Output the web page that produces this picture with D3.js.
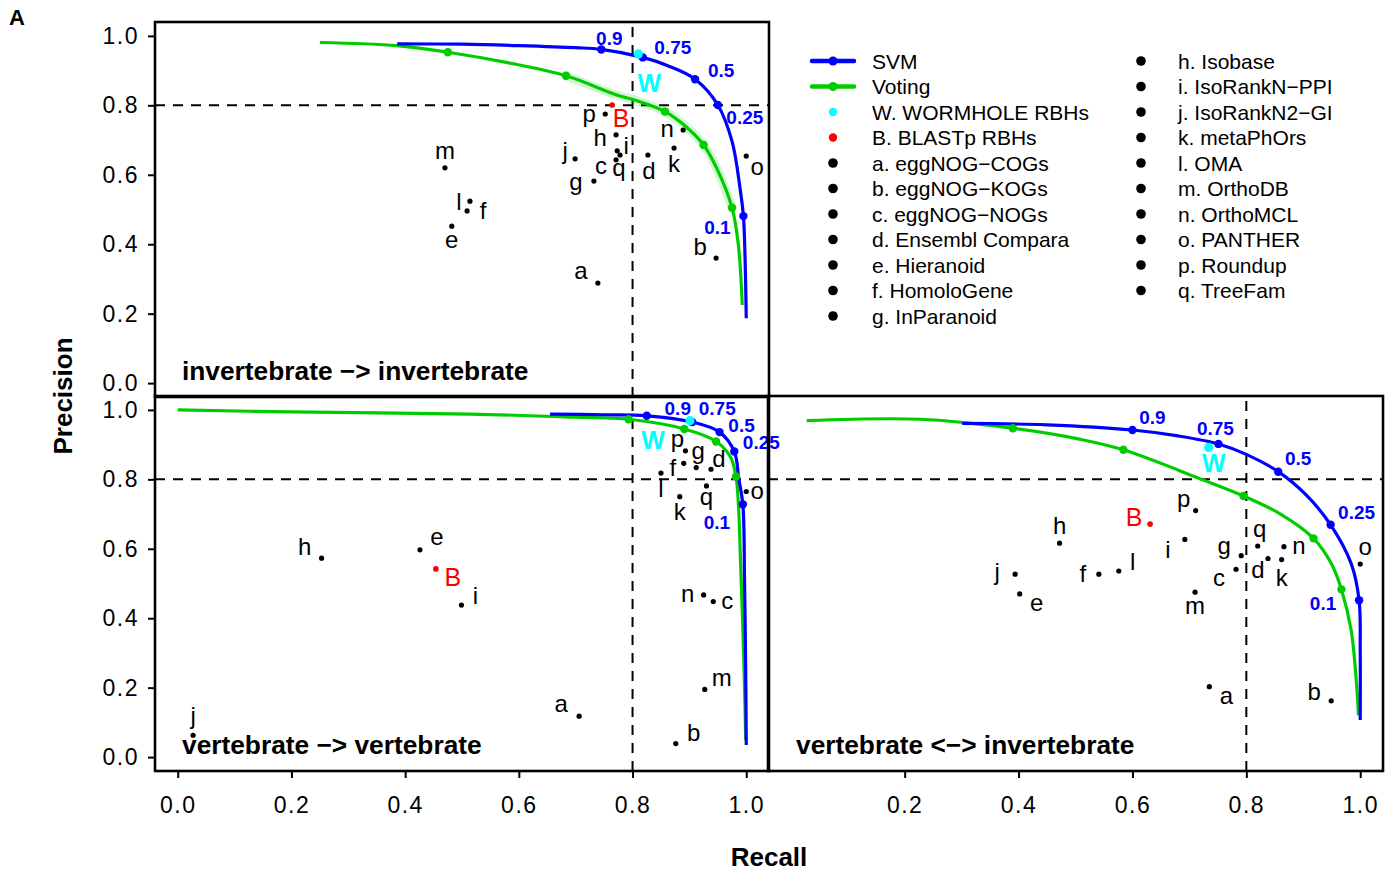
<!DOCTYPE html>
<html><head><meta charset="utf-8">
<script src="https://cdn.jsdelivr.net/npm/d3@7"></script>
<style>
body{margin:0;background:#fff}
text{font-family:"Liberation Sans",Arial,Helvetica,sans-serif}
</style>
</head><body><svg id="chart" width="1394" height="871"></svg>
<script>
// ---------------- DATA ----------------
const methodLetters = ["a","b","c","d","e","f","g","h","i","j","k","l","m","n","o","p","q"];
const methodNames = ["eggNOG\u2212COGs","eggNOG\u2212KOGs","eggNOG\u2212NOGs","Ensembl Compara","Hieranoid","HomoloGene","InParanoid",
  "Isobase","IsoRankN\u2212PPI","IsoRankN2\u2212GI","metaPhOrs","OMA","OrthoDB","OrthoMCL","PANTHER","Roundup","TreeFam"];
const thresholdLabels = ["0.9","0.75","0.5","0.25","0.1"];
const tickValues = [0, 0.2, 0.4, 0.6, 0.8, 1.0];
const rightTickValues = [0.2, 0.4, 0.6, 0.8, 1.0];
const panelTitles = ["invertebrate \u2212> invertebrate","vertebrate \u2212> vertebrate","vertebrate <\u2212> invertebrate"];
const cutoff = 0.8;

// invertebrate -> invertebrate  [recall, precision]
const invSvmCurve = [[0.386,0.977],[0.50,0.976],[0.60,0.972],[0.70,0.966],[0.745,0.961],[0.818,0.938],[0.862,0.914],[0.910,0.875],[0.950,0.801],[0.975,0.696],[0.989,0.562],[0.995,0.481],[0.998,0.354],[1.0,0.187]];
const invVotingCurve = [[0.25,0.981],[0.385,0.972],[0.475,0.953],[0.58,0.923],[0.683,0.885],[0.772,0.830],[0.808,0.813],[0.857,0.782],[0.890,0.744],[0.925,0.686],[0.948,0.619],[0.975,0.505],[0.986,0.40],[0.993,0.225]];
const invSvmThresholds = [[0.745,0.961],[0.818,0.938],[0.910,0.875],[0.950,0.801],[0.995,0.481]];
const invVotingDots = [[0.475,0.953],[0.683,0.885],[0.857,0.782],[0.925,0.686],[0.975,0.505]];
const invMethodRecall    = [0.739,0.947,0.771,0.827,0.482,0.509,0.732,0.771,0.773,0.699,0.873,0.514,0.470,0.889,1.000,0.752,0.778];
const invMethodPrecision = [0.288,0.360,0.643,0.657,0.452,0.496,0.582,0.715,0.669,0.646,0.677,0.524,0.620,0.729,0.654,0.775,0.657];
const invWormhole = [0.810,0.948];
const invBlast = [0.764,0.801];

// vertebrate -> vertebrate
const vertSvmCurve = [[0.655,0.988],[0.75,0.986],[0.825,0.983],[0.905,0.965],[0.953,0.936],[0.979,0.880],[0.987,0.80],[0.994,0.728],[0.997,0.50],[0.999,0.25],[1.0,0.035]];
const vertVotingCurve = [[0.0,1.0],[0.2,0.994],[0.514,0.988],[0.70,0.979],[0.793,0.973],[0.891,0.945],[0.947,0.909],[0.972,0.865],[0.982,0.808],[0.991,0.51],[0.997,0.20],[0.999,0.05]];
const vertSvmThresholds = [[0.825,0.983],[0.905,0.965],[0.953,0.936],[0.979,0.880],[0.994,0.728]];
const vertVotingDots = [[0.793,0.973],[0.891,0.945],[0.947,0.909],[0.982,0.808]];
const vertMethodRecall    = [0.706,0.876,0.942,0.938,0.426,0.890,0.912,0.253,0.499,0.027,0.883,0.850,0.927,0.925,1.000,0.893,0.930];
const vertMethodPrecision = [0.118,0.039,0.448,0.829,0.597,0.846,0.834,0.573,0.438,0.063,0.750,0.818,0.195,0.467,0.765,0.882,0.781];
const vertWormhole = [0.901,0.969];
const vertBlast = [0.454,0.542];

// vertebrate <-> invertebrate
const crossSvmCurve = [[0.301,0.961],[0.45,0.957],[0.600,0.942],[0.68,0.925],[0.751,0.902],[0.80,0.872],[0.856,0.822],[0.905,0.755],[0.948,0.669],[0.984,0.558],[0.998,0.452],[1.0,0.30],[1.0,0.107]];
const crossVotingCurve = [[0.028,0.969],[0.227,0.973],[0.390,0.947],[0.509,0.915],[0.584,0.885],[0.726,0.797],[0.795,0.752],[0.86,0.700],[0.918,0.630],[0.949,0.558],[0.967,0.483],[0.984,0.366],[0.994,0.20],[0.997,0.12]];
const crossSvmThresholds = [[0.600,0.942],[0.751,0.902],[0.856,0.822],[0.948,0.669],[0.998,0.452]];
const crossVotingDots = [[0.390,0.947],[0.584,0.885],[0.795,0.752],[0.918,0.630],[0.967,0.483]];
const crossMethodRecall    = [0.735,0.949,0.782,0.838,0.402,0.541,0.791,0.472,0.692,0.394,0.862,0.576,0.710,0.866,1.000,0.711,0.820];
const crossMethodPrecision = [0.203,0.162,0.541,0.572,0.470,0.527,0.580,0.616,0.627,0.527,0.569,0.536,0.475,0.606,0.556,0.710,0.608];
const crossWormhole = [0.734,0.892];
const crossBlast = [0.631,0.671];

// ---------------- LAYOUT (label offsets in px, not data) ----------------
const invLabelOffsets = {a:[-17,-11],b:[-16,-10],c:[-15,7],d:[1,17],e:[0,15],f:[16,1],g:[-18,2],h:[-16,4],i:[9,-4],j:[-10,-7],k:[0,17],l:[-11,2],m:[0,-16],n:[-16,0],o:[11,12],p:[-16,1],q:[-1,14],B:[9,13],W:[11,29]};
const vertLabelOffsets = {a:[-18,-11],b:[18,-10],c:[14,0],d:[8,-9],e:[17,-12],f:[-11,5],g:[2,-16],h:[-17,-10],i:[14,-8],j:[0,-18],k:[0,16],l:[0,17],m:[17,-11],n:[-16,0],o:[11,0],p:[-8,-11],q:[0,12],B:[17,8],W:[-37,19]};
const crossLabelOffsets = {a:[17,10],b:[-17,-8],c:[-17,10],d:[-10,12],e:[17,10],f:[-16,1],g:[-17,-9],h:[0,-16],i:[-17,11],j:[-18,-1],k:[0,19],l:[14,-8],m:[0,15],n:[15,0],o:[5,-16],p:[-12,-11],q:[2,-16],B:[-16,-7],W:[5,16]};
const invThrOffsets = [[8,-11],[30,-10],[26,-9],[27,12],[-26,11]];
const vertThrOffsets = [[31,-8],[25,-14],[22,-7],[27,-9],[-26,18]];
const crossThrOffsets = [[20,-13],[-3,-16],[20,-14],[26,-13],[-36,3]];

const BLUE = "#0000FF", GREEN = "#00CD00", CYAN = "#00FFFF", RED = "#FF0000";

const svg = d3.select("#chart");
const dom = [-0.04, 1.04];
const xL = d3.scaleLinear(dom, [155, 769]);
const xR = d3.scaleLinear(dom, [768, 1383]);
const yT = d3.scaleLinear(dom, [397, 22]);
const yB = d3.scaleLinear(dom, [771, 396]);

const panels = [
  {x:xL, y:yT, svm:invSvmCurve, vot:invVotingCurve, thr:invSvmThresholds, vdots:invVotingDots,
   mr:invMethodRecall, mp:invMethodPrecision, W:invWormhole, B:invBlast, off:invLabelOffsets, thrOff:invThrOffsets,
   title:panelTitles[0], titleX:182, titleY:380, band:true},
  {x:xL, y:yB, svm:vertSvmCurve, vot:vertVotingCurve, thr:vertSvmThresholds, vdots:vertVotingDots,
   mr:vertMethodRecall, mp:vertMethodPrecision, W:vertWormhole, B:vertBlast, off:vertLabelOffsets, thrOff:vertThrOffsets,
   title:panelTitles[1], titleX:182, titleY:754},
  {x:xR, y:yB, svm:crossSvmCurve, vot:crossVotingCurve, thr:crossSvmThresholds, vdots:crossVotingDots,
   mr:crossMethodRecall, mp:crossMethodPrecision, W:crossWormhole, B:crossBlast, off:crossLabelOffsets, thrOff:crossThrOffsets,
   title:panelTitles[2], titleX:796, titleY:754}
];

panels.forEach(P => {
  const g = svg.append("g");
  const [x0,x1] = P.x.range(), [y0,y1] = P.y.range();
  g.append("line").attr("x1",x0).attr("x2",x1).attr("y1",P.y(cutoff)).attr("y2",P.y(cutoff))
    .attr("stroke","#000").attr("stroke-width",2).attr("stroke-dasharray","10,8");
  g.append("line").attr("x1",P.x(cutoff)).attr("x2",P.x(cutoff)).attr("y1",y0).attr("y2",y1)
    .attr("stroke","#000").attr("stroke-width",2).attr("stroke-dasharray","10,8");

  const line = d3.line().x(d=>P.x(d[0])).y(d=>P.y(d[1])).curve(d3.curveCatmullRom.alpha(0.5));
  if (P.band) {
    g.append("path").attr("d", line(P.vot.filter(d=>d[0]>=0.6 && d[0]<=0.976)))
      .attr("fill","none").attr("stroke",GREEN).attr("stroke-opacity",0.18).attr("stroke-width",9).attr("stroke-linecap","round");
  }
  g.append("path").attr("d", line(P.vot)).attr("fill","none").attr("stroke",GREEN).attr("stroke-width",3.2);
  g.append("path").attr("d", line(P.svm)).attr("fill","none").attr("stroke",BLUE).attr("stroke-width",3.2);
  g.selectAll(null).data(P.vdots).join("circle").attr("cx",d=>P.x(d[0])).attr("cy",d=>P.y(d[1])).attr("r",4.2).attr("fill",GREEN);
  g.selectAll(null).data(P.thr).join("circle").attr("cx",d=>P.x(d[0])).attr("cy",d=>P.y(d[1])).attr("r",4.2).attr("fill",BLUE);
  g.selectAll(null).data(P.thr).join("text").attr("x",(d,i)=>P.x(d[0])+P.thrOff[i][0]).attr("y",(d,i)=>P.y(d[1])+P.thrOff[i][1])
    .attr("dy","0.36em").attr("text-anchor","middle").attr("font-weight","bold").attr("font-size",19).attr("fill",BLUE)
    .text((d,i)=>thresholdLabels[i]);

  const pts = methodLetters.map((l,i)=>({l, r:P.mr[i], p:P.mp[i]}));
  g.selectAll(null).data(pts).join("circle").attr("cx",d=>P.x(d.r)).attr("cy",d=>P.y(d.p)).attr("r",2.6).attr("fill","#000");
  g.selectAll(null).data(pts).join("text").attr("x",d=>P.x(d.r)+P.off[d.l][0]).attr("y",d=>P.y(d.p)+P.off[d.l][1])
    .attr("dy","0.3em").attr("text-anchor","middle").attr("font-size",24).attr("fill","#000").text(d=>d.l);
  g.append("circle").attr("cx",P.x(P.B[0])).attr("cy",P.y(P.B[1])).attr("r",2.8).attr("fill",RED);
  g.append("text").attr("x",P.x(P.B[0])+P.off.B[0]).attr("y",P.y(P.B[1])+P.off.B[1]).attr("dy","0.36em")
    .attr("text-anchor","middle").attr("font-size",25).attr("fill",RED).text("B");
  g.append("circle").attr("cx",P.x(P.W[0])).attr("cy",P.y(P.W[1])).attr("r",4.6).attr("fill",CYAN);
  g.append("text").attr("x",P.x(P.W[0])+P.off.W[0]).attr("y",P.y(P.W[1])+P.off.W[1]).attr("dy","0.36em")
    .attr("text-anchor","middle").attr("font-size",25).attr("font-weight","bold").attr("fill",CYAN).text("W");

  g.append("text").attr("x",P.titleX).attr("y",P.titleY).attr("font-size",26.3).attr("font-weight","bold").text(P.title);
  g.append("rect").attr("x",x0).attr("y",y1).attr("width",x1-x0).attr("height",y0-y1)
    .attr("fill","none").attr("stroke","#000").attr("stroke-width",2.6);
});

function styleAxis(sel){
  sel.select(".domain").remove();
  sel.selectAll(".tick line").attr("stroke","#000").attr("stroke-width",2);
  sel.selectAll(".tick text").attr("font-size",23).attr("letter-spacing","1.5px")
    .attr("font-family","\"Liberation Sans\",Arial,sans-serif").attr("fill","#000");
}
const fmt = d3.format(".1f");
svg.append("g").attr("transform","translate(155,0)").call(d3.axisLeft(yT).tickValues(tickValues).tickFormat(fmt).tickSize(7).tickPadding(9)).call(styleAxis);
svg.append("g").attr("transform","translate(155,0)").call(d3.axisLeft(yB).tickValues(tickValues).tickFormat(fmt).tickSize(7).tickPadding(9)).call(styleAxis);
svg.append("g").attr("transform","translate(0,771)").call(d3.axisBottom(xL).tickValues(tickValues).tickFormat(fmt).tickSize(7).tickPadding(19)).call(styleAxis);
svg.append("g").attr("transform","translate(0,771)").call(d3.axisBottom(xR).tickValues(rightTickValues).tickFormat(fmt).tickSize(7).tickPadding(19)).call(styleAxis);

svg.append("text").attr("transform","translate(72,396) rotate(-90)").attr("text-anchor","middle")
  .attr("font-size",26).attr("font-weight","bold").text("Precision");
svg.append("text").attr("x",769).attr("y",866).attr("text-anchor","middle")
  .attr("font-size",26).attr("font-weight","bold").text("Recall");
svg.append("text").attr("x",9).attr("y",25).attr("font-size",22).attr("font-weight","bold").text("A");

const legendRowsLeft = [
  {label:"SVM", type:"line", color:BLUE},
  {label:"Voting", type:"line", color:GREEN},
  {label:"W. WORMHOLE RBHs", type:"dot", color:CYAN},
  {label:"B. BLASTp RBHs", type:"dot", color:RED}
].concat(methodLetters.slice(0,7).map((l,i)=>({label:l+". "+methodNames[i], type:"dot", color:"#000"})));
const legendRowsRight = methodLetters.slice(7).map((l,i)=>({label:l+". "+methodNames[i+7], type:"dot", color:"#000"}));
const rowY = d3.scaleLinear([0,10],[61,316]);
function drawLegend(rows, symX, textX){
  const lg = svg.append("g");
  rows.forEach((r,i)=>{
    const y = rowY(i);
    if (r.type==="line"){
      lg.append("line").attr("x1",symX-21).attr("x2",symX+21).attr("y1",y).attr("y2",y).attr("stroke",r.color).attr("stroke-width",4.5).attr("stroke-linecap","round");
      lg.append("circle").attr("cx",symX).attr("cy",y).attr("r",4.5).attr("fill",r.color);
    } else {
      lg.append("circle").attr("cx",symX).attr("cy",y).attr("r",r.color==="#000"?4.8:4.2).attr("fill",r.color);
    }
    lg.append("text").attr("x",textX).attr("y",y).attr("dy","0.36em").attr("font-size",21).text(r.label);
  });
}
drawLegend(legendRowsLeft, 833, 872);
drawLegend(legendRowsRight, 1141, 1178);
</script></body></html>
